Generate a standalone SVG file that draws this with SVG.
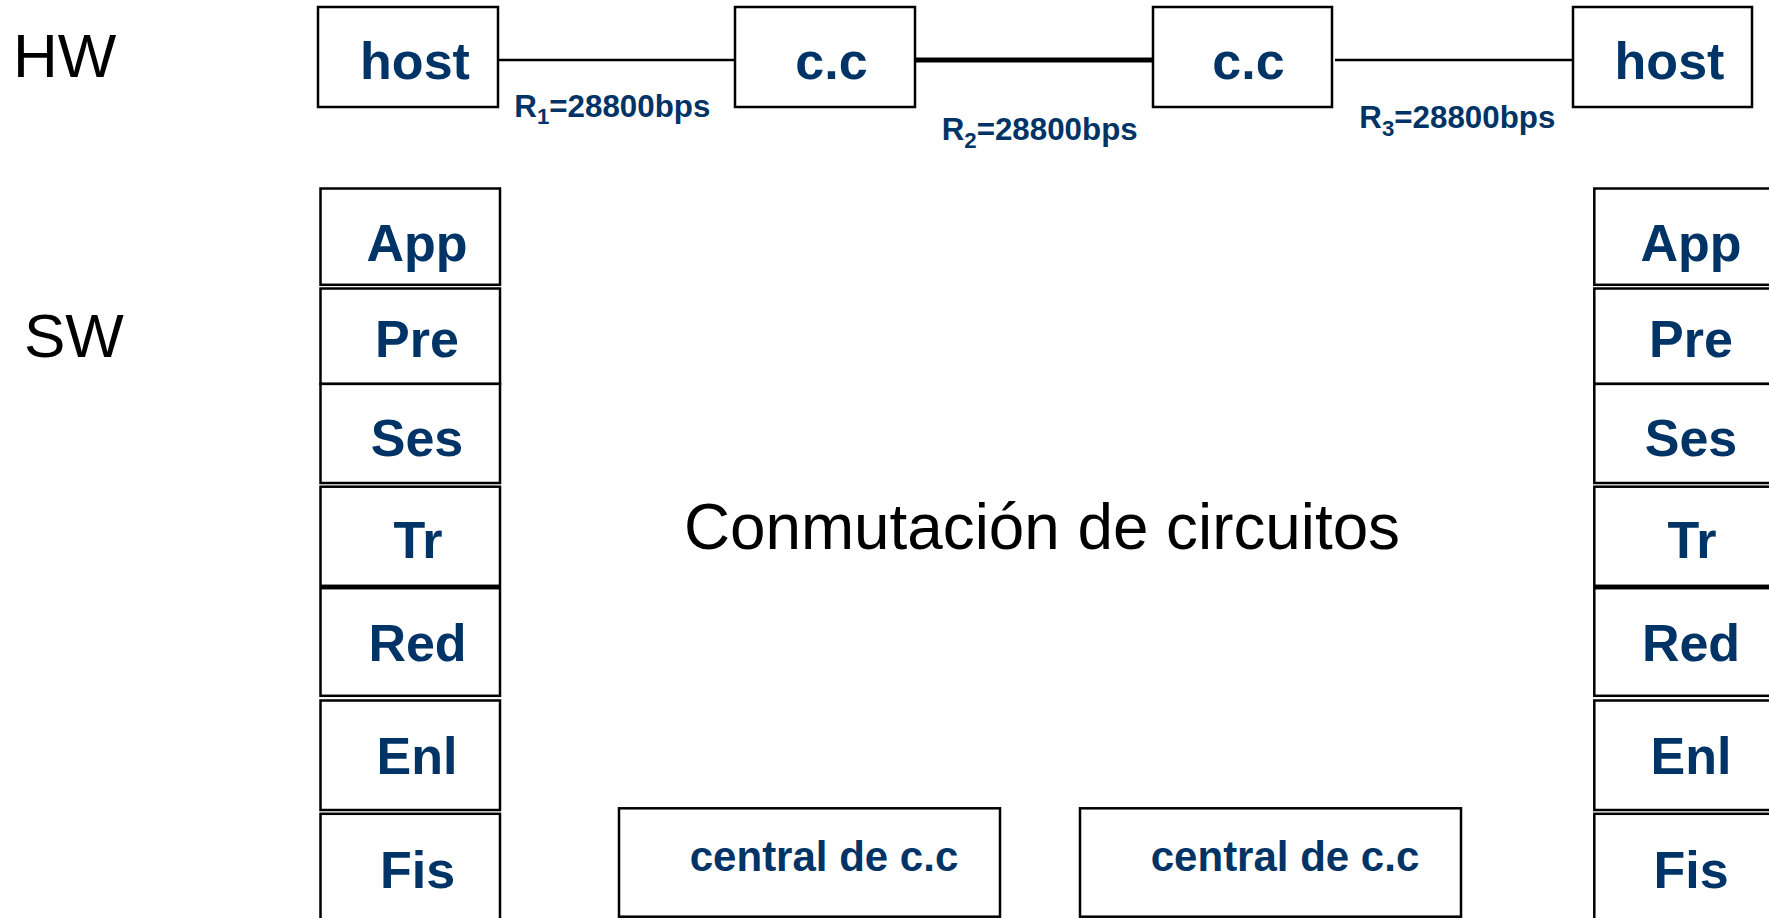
<svg xmlns="http://www.w3.org/2000/svg" width="1769" height="918" viewBox="0 0 1769 918">
<style>
.box{fill:#fff;stroke:#000;stroke-width:2.5}
.lbl{font-family:"Liberation Sans",Arial,sans-serif;font-weight:bold;fill:#003366;text-anchor:middle}
.big{font-size:52px}
.rate{font-family:"Liberation Sans",Arial,sans-serif;font-weight:bold;fill:#003366;font-size:31px}
.plain{font-family:"Liberation Sans",Arial,sans-serif;fill:#000}
.link{stroke:#000;stroke-width:2.5;fill:none}
.thick{stroke-width:5}
</style>
<rect width="1769" height="918" fill="#fff"/>
<text class="plain" x="13" y="76.7" font-size="62">HW</text>
<text class="plain" x="24" y="356.7" font-size="62">SW</text>
<g id="connectors">
<line class="link" x1="497" y1="60" x2="735" y2="60"/>
<line class="link thick" x1="915" y1="60" x2="1153" y2="60"/>
<line class="link" x1="1335" y1="60" x2="1573" y2="60"/>
</g>
<g id="host1"><rect class="box" x="318" y="7" width="180" height="100"/><text class="lbl big" x="415" y="79.3">host</text></g>
<g id="cc1"><rect class="box" x="735" y="7" width="180" height="100"/><text class="lbl big" x="831.5" y="79.3">c.c</text></g>
<g id="cc2"><rect class="box" x="1153" y="7" width="179" height="100"/><text class="lbl big" x="1248.5" y="79.3">c.c</text></g>
<g id="host2"><rect class="box" x="1573" y="7" width="179" height="100"/><text class="lbl big" x="1669.5" y="79.3">host</text></g>
<g id="rates">
<text class="rate" x="514.3" y="116.7" textLength="196" lengthAdjust="spacingAndGlyphs">R<tspan font-size="22" dy="7.5">1</tspan><tspan dy="-7.5">=28800bps</tspan></text>
<text class="rate" x="941.7" y="140" textLength="196" lengthAdjust="spacingAndGlyphs">R<tspan font-size="22" dy="7.5">2</tspan><tspan dy="-7.5">=28800bps</tspan></text>
<text class="rate" x="1359.3" y="128.3" textLength="196" lengthAdjust="spacingAndGlyphs">R<tspan font-size="22" dy="7.5">3</tspan><tspan dy="-7.5">=28800bps</tspan></text>
</g>
<g id="left-stack">
<g id="l-app"><rect class="box" x="320.5" y="188.5" width="179.5" height="96.3"/><text class="lbl big" x="417" y="260.5">App</text></g>
<g id="l-pre"><rect class="box" x="320.5" y="288.5" width="179.5" height="95.4"/><text class="lbl big" x="417" y="357">Pre</text></g>
<g id="l-ses"><rect class="box" x="320.5" y="383.9" width="179.5" height="99.1"/><text class="lbl big" x="417" y="456">Ses</text></g>
<g id="l-tr"><rect class="box" x="320.5" y="486.7" width="179.5" height="99.1"/><text class="lbl big" x="418" y="557.5">Tr</text></g>
<g id="l-red"><rect class="box" x="320.5" y="588.2" width="179.5" height="107.6"/><text class="lbl big" x="417.5" y="661.4">Red</text></g>
<g id="l-enl"><rect class="box" x="320.5" y="700.5" width="179.5" height="109.5"/><text class="lbl big" x="417" y="773.7">Enl</text></g>
<g id="l-fis"><rect class="box" x="320.5" y="813.8" width="179.5" height="130"/><text class="lbl big" x="417.5" y="887.9">Fis</text></g>
</g>
<g id="right-stack">
<g id="r-app"><rect class="box" x="1594.3" y="188.5" width="179.5" height="96.3"/><text class="lbl big" x="1691" y="260.5">App</text></g>
<g id="r-pre"><rect class="box" x="1594.3" y="288.5" width="179.5" height="95.4"/><text class="lbl big" x="1691" y="357">Pre</text></g>
<g id="r-ses"><rect class="box" x="1594.3" y="383.9" width="179.5" height="99.1"/><text class="lbl big" x="1691" y="456">Ses</text></g>
<g id="r-tr"><rect class="box" x="1594.3" y="486.7" width="179.5" height="99.1"/><text class="lbl big" x="1692" y="557.5">Tr</text></g>
<g id="r-red"><rect class="box" x="1594.3" y="588.2" width="179.5" height="107.6"/><text class="lbl big" x="1691" y="661.4">Red</text></g>
<g id="r-enl"><rect class="box" x="1594.3" y="700.5" width="179.5" height="109.5"/><text class="lbl big" x="1691" y="773.7">Enl</text></g>
<g id="r-fis"><rect class="box" x="1594.3" y="813.8" width="179.5" height="130"/><text class="lbl big" x="1691" y="887.9">Fis</text></g>
</g>
<text class="plain" x="684" y="549.3" font-size="65" textLength="716" lengthAdjust="spacingAndGlyphs">Conmutación de circuitos</text>
<g id="central1"><rect class="box" x="619" y="808.3" width="381" height="108.4"/><text class="lbl" x="824" y="871" font-size="42">central de c.c</text></g>
<g id="central2"><rect class="box" x="1080" y="808.3" width="381" height="108.4"/><text class="lbl" x="1285" y="871" font-size="42">central de c.c</text></g>
</svg>
